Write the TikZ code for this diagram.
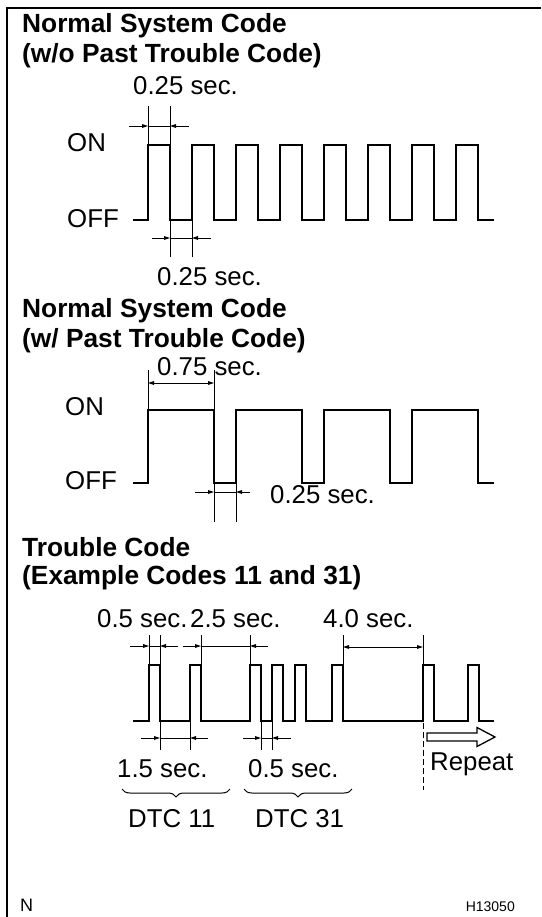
\documentclass[tikz,border=0pt]{standalone}
\usepackage{fontspec}
\setmainfont{Liberation Sans}
\usetikzlibrary{arrows.meta,decorations.pathreplacing}
\tikzset{
  wave/.style={line width=1.9pt, line join=miter},
  dimline/.style={line width=0.9pt},
  tip/.style={-{Triangle[length=6pt,width=3.6pt]}},
  both/.style={{Triangle[length=6pt,width=3.6pt]}-{Triangle[length=6pt,width=3.6pt]}},
  title/.style={anchor=base west, inner sep=0pt, font=\bfseries\fontsize{26.3}{30}\selectfont},
  lbl/.style={anchor=base west, inner sep=0pt, font=\fontsize{25.8}{30}\selectfont},
}
\begin{document}
\begin{tikzpicture}[x=1pt,y=-1pt]
\useasboundingbox (0,0) rectangle (541,917);
% frame
\draw[line width=2pt] (541,8) -- (7,8) -- (7,917);

% ---------- Section 1 ----------
\node[title] (t1a) at (22,33) {Normal System Code};
\node[title] (t1b) at (22,63) {(w/o Past Trouble Code)};
\node[lbl] (s1top) at (133,95) {0.25 sec.};
\node[lbl] (on1) at (67,152) {ON};
\node[lbl] (off1) at (67,227) {OFF};
\node[lbl] (s1bot) at (157,285) {0.25 sec.};
\draw[wave] (133,220) foreach \x in {148,192,236,280,324,368,412,456} {-- (\x,220) -- (\x,145) -- (\x+22,145) -- (\x+22,220)} -- (494,220);
% top dim
\draw[dimline] (148,106) -- (148,145) (170,106) -- (170,145);
\draw[dimline,tip] (129,126) -- (148,126);
\draw[dimline] (148,126) -- (170,126);
\draw[dimline,tip] (189,126) -- (170,126);
% bottom dim
\draw[dimline] (170,220) -- (170,257) (192,220) -- (192,257);
\draw[dimline,tip] (152,238) -- (170,238);
\draw[dimline] (170,238) -- (192,238);
\draw[dimline,tip] (211,238) -- (192,238);

% ---------- Section 2 ----------
\node[title] (t2a) at (22,317) {Normal System Code};
\node[title] (t2b) at (22,347) {(w/ Past Trouble Code)};
\node[lbl] (s2top) at (157,375) {0.75 sec.};
\node[lbl] (on2) at (65,415) {ON};
\node[lbl] (off2) at (65,489) {OFF};
\node[lbl] (s2bot) at (270,503) {0.25 sec.};
\draw[wave] (133,483) foreach \x in {148,236,324,412} {-- (\x,483) -- (\x,410) -- (\x+66,410) -- (\x+66,483)} -- (494,483);
\draw[dimline] (148,370) -- (148,410) (214,370) -- (214,410);
\draw[dimline,both] (148,383) -- (214,383);
\draw[dimline] (214,483) -- (214,522) (236,483) -- (236,522);
\draw[dimline,tip] (195,492) -- (214,492);
\draw[dimline] (214,492) -- (236,492);
\draw[dimline,tip] (250,492) -- (236,492);

% ---------- Section 3 ----------
\node[title] (t3a) at (22,556) {Trouble Code};
\node[title] (t3b) at (22,584) {(Example Codes 11 and 31)};
\node[lbl] (s3a) at (97,627) {0.5 sec.};
\node[lbl] (s3b) at (190,627) {2.5 sec.};
\node[lbl] (s3c) at (323,627) {4.0 sec.};
\draw[wave] (133,721) foreach \r/\f in {149/160,190/201,250/261,272/283,295/306,332/343,423/434,468/479} {-- (\r,721) -- (\r,665) -- (\f,665) -- (\f,721)} -- (494,721);
% top dims
\draw[dimline] (149,635) -- (149,665) (160,635) -- (160,665);
\draw[dimline,tip] (130,646) -- (149,646);
\draw[dimline] (149,646) -- (160,646);
\draw[dimline,tip] (178,646) -- (160,646);
\draw[dimline] (201,635) -- (201,665) (250,635) -- (250,665);
\draw[dimline,tip] (183,646) -- (201,646);
\draw[dimline] (201,646) -- (250,646);
\draw[dimline,tip] (268,646) -- (250,646);
\draw[dimline] (343,635) -- (343,665) (423,635) -- (423,665);
\draw[dimline,both] (343,647) -- (423,647);
% bottom dims
\draw[dimline] (160,721) -- (160,750) (190,721) -- (190,750);
\draw[dimline,tip] (141,738) -- (160,738);
\draw[dimline] (160,738) -- (190,738);
\draw[dimline,tip] (208,738) -- (190,738);
\draw[dimline] (261,721) -- (261,750) (272,721) -- (272,750);
\draw[dimline,tip] (243,738) -- (261,738);
\draw[dimline] (261,738) -- (272,738);
\draw[dimline,tip] (291,738) -- (272,738);
% repeat marker
\draw[dimline, dash pattern=on 6pt off 3pt] (423,723) -- (423,790);
\draw[line width=1.3pt, line join=miter] (427,733) -- (477,733) -- (477,727.5) -- (495,737) -- (477,746.5) -- (477,741) -- (427,741) -- cycle;
\node[lbl] (rep) at (430,770) {Repeat};
\node[lbl] (s3d) at (117,777) {1.5 sec.};
\node[lbl] (s3e) at (248,777) {0.5 sec.};
\draw[line width=1pt, decorate, decoration={brace, mirror, amplitude=8pt}] (122,789) -- (230,789);
\draw[line width=1pt, decorate, decoration={brace, mirror, amplitude=8pt}] (244,789) -- (352,789);
\node[lbl] (d11) at (128,827) {DTC 11};
\node[lbl] (d31) at (255,827) {DTC 31};

% footer
\node[anchor=base west, inner sep=0pt, font=\fontsize{18}{20}\selectfont] (nn) at (20,911) {N};
\node[anchor=base east, inner sep=0pt, font=\fontsize{14}{16}\selectfont] (code) at (515,911) {H13050};
\end{tikzpicture}
\end{document}
